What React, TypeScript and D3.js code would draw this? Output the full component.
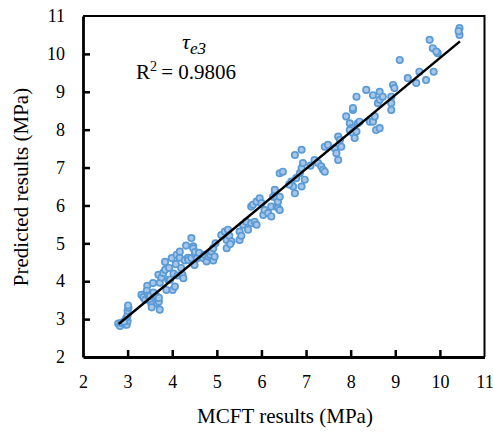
import React, { useEffect, useRef } from 'react';
import * as d3 from 'd3';

// MCFT results (x) vs predicted results (y), MPa
const mcftVals = [
  2.79, 2.83, 2.86, 2.95, 2.98, 3.0, 2.97, 3.0, 3.0, 3.02, 3.01, 2.92,
  3.31, 3.35, 3.39, 3.44, 3.43, 3.46, 3.5, 3.52, 3.54, 3.54, 3.57, 3.58, 3.62, 3.65, 3.66, 3.69, 3.7, 3.7, 3.72, 3.72,
  3.76, 3.8, 3.84, 3.84, 3.87, 3.91, 3.93, 3.95, 3.99, 4.01, 4.03, 4.06, 4.08, 4.1, 4.12, 4.17, 4.17, 4.2, 4.23, 4.25, 4.28, 4.31,
  4.35, 4.36, 4.43, 4.43, 4.47, 4.47, 4.5, 4.51, 4.51, 4.55, 4.6, 4.69, 4.72, 4.77, 4.81, 4.85, 4.88, 4.92, 4.92, 4.95, 4.97,
  5.1, 5.18, 5.22, 5.22, 5.25, 5.28, 5.33, 5.3,
  5.51, 5.51, 5.55, 5.59, 5.66, 5.7, 5.77, 5.77, 5.81, 5.85, 5.89, 5.89, 5.96, 6.0,
  6.04, 6.07, 6.15, 6.22, 6.22, 6.26, 6.3, 6.3, 6.34, 6.34, 6.37, 6.37, 6.41, 6.41, 6.41, 6.48,
  6.67, 6.71, 6.75, 6.78, 6.86, 6.9, 6.93, 6.97, 6.9, 6.75, 6.9, 6.62,
  7.19, 7.27, 7.34, 7.38, 7.42, 7.42, 7.49, 7.1,
  7.64, 7.68, 7.72, 7.72, 7.76, 7.79, 7.9, 7.98, 8.02, 7.98, 8.05, 8.09, 8.13, 8.16, 8.05, 8.05, 8.13, 8.2,
  8.35, 8.43, 8.5, 8.5, 8.54, 8.57, 8.65, 8.61, 8.65, 8.65, 8.72, 8.91, 8.91, 8.91, 8.95, 8.98,
  9.1, 9.28, 9.47, 9.54, 9.69, 9.77, 9.84, 9.86, 9.95, 9.92, 10.44, 10.44, 10.42
];
const predVals = [
  2.88, 2.82, 2.9, 2.86, 2.85, 2.95, 3.03, 3.1, 3.22, 3.3, 3.36, 2.93,
  3.64, 3.58, 3.51, 3.88, 3.75, 3.62, 3.61, 3.45, 3.38, 3.31, 3.95, 3.7, 3.55, 3.6, 3.42, 4.17, 3.46, 3.56, 3.96, 3.25,
  4.1, 4.22, 4.3, 4.51, 3.77, 4.04, 4.35, 4.04, 4.61, 3.77, 4.2, 3.86, 4.45, 4.7, 4.15, 4.62, 4.78, 4.35, 4.17, 4.08, 4.55, 4.94,
  4.62, 4.56, 5.14, 4.61, 4.92, 4.87, 4.43, 4.7, 4.77, 4.6, 4.75, 4.61, 4.7, 4.52, 4.65, 4.7, 4.78, 4.87, 4.55, 4.65, 5.0,
  5.22, 5.31, 5.09, 4.87, 5.36, 5.2, 5.05, 4.98,
  5.31, 5.09, 5.2, 5.49, 5.57, 5.36, 5.53, 5.97, 6.02, 5.57, 5.49, 6.1, 6.19, 6.06,
  5.75, 5.88, 5.8, 5.71, 5.97, 6.23, 6.37, 6.41, 6.19, 5.97, 6.1, 5.93, 5.88, 6.23, 6.85, 6.89,
  6.63, 6.5, 6.32, 6.72, 6.85, 6.98, 7.12, 6.68, 6.5, 7.33, 7.47, 6.55,
  7.2, 7.12, 7.03, 6.94, 6.89, 7.55, 7.6, 7.05,
  7.51, 7.38, 7.2, 7.82, 7.73, 7.55, 8.35, 8.17, 8.04, 7.99, 7.91, 7.78, 7.95, 8.17, 8.52, 8.57, 8.87, 8.21,
  9.05, 8.21, 8.21, 8.91, 8.35, 7.99, 8.04, 8.7, 8.79, 9.0, 8.87, 8.87, 8.7, 8.52, 9.18, 9.1,
  9.84, 9.36, 9.23, 9.53, 9.31, 10.37, 10.15, 9.53, 10.02, 10.06, 10.68, 10.5, 10.6
];
// trend line end points
const fitX = [2.8, 10.45];
const fitY = [2.87, 10.33];
const xTicks = [2, 3, 4, 5, 6, 7, 8, 9, 10, 11];
const yTicks = [2, 3, 4, 5, 6, 7, 8, 9, 10, 11];

const W = 493;
const H = 432;
const serif = 'Liberation Serif';

function Chart() {
  const ref = useRef<SVGSVGElement>(null);

  useEffect(() => {
    const svg = d3.select(ref.current);
    svg.selectAll('*').remove();

    const x = d3.scaleLinear().domain([2, 11]).range([83, 484.5]);
    const y = d3.scaleLinear().domain([2, 11]).range([357, 16]);

    // frame top / right
    svg.append('path')
      .attr('d', `M${x(2)},${y(11)}H${x(11)}V${y(2)}`)
      .attr('fill', 'none')
      .attr('stroke', '#000')
      .attr('stroke-width', 2);

    const gx = svg.append('g')
      .attr('transform', `translate(0,${y(2)})`)
      .call(d3.axisBottom(x).tickValues(xTicks).tickSize(-7).tickSizeOuter(0).tickPadding(18).tickFormat(d3.format('d')));
    const gy = svg.append('g')
      .attr('transform', `translate(${x(2)},0)`)
      .call(d3.axisLeft(y).tickValues(yTicks).tickSize(-7).tickSizeOuter(0).tickPadding(18).tickFormat(d3.format('d')));

    [gx, gy].forEach(g => {
      g.attr('font-family', serif).attr('font-size', 18);
      g.select('.domain').attr('stroke', '#000').attr('stroke-width', 2.8);
      g.selectAll('.tick line').attr('stroke', '#000').attr('stroke-width', 2.5);
      g.selectAll('.tick text').attr('fill', '#000');
    });
    gx.selectAll('.tick line').filter((d: any) => d === 2 || d === 11).remove();
    gy.selectAll('.tick line').filter((d: any) => d === 2 || d === 11).remove();

    const pts = mcftVals.map((v, i) => [v, predVals[i]]);
    svg.append('g')
      .selectAll('circle')
      .data(pts)
      .enter()
      .append('circle')
      .attr('cx', d => x(d[0]))
      .attr('cy', d => y(d[1]))
      .attr('r', 3.2)
      .attr('fill', '#a7c6e8')
      .attr('stroke', '#5b9bd5')
      .attr('stroke-width', 1.7);

    const line = d3.line<number>()
      .x(d => x(fitX[d]))
      .y(d => y(fitY[d]));
    svg.append('path')
      .attr('d', line([0, 1]))
      .attr('fill', 'none')
      .attr('stroke', '#000')
      .attr('stroke-width', 2.5);

    // annotation
    const ann = svg.append('text')
      .attr('x', 182)
      .attr('y', 49)
      .attr('font-size', 22)
      .attr('font-style', 'italic');
    ann.append('tspan').text('τ');
    ann.append('tspan').attr('dy', 5).attr('font-size', 17).text('e3');

    const r2 = svg.append('text')
      .attr('x', 136)
      .attr('y', 79)
      .attr('font-size', 21);
    r2.append('tspan').text('R');
    r2.append('tspan').attr('dy', -8).attr('font-size', 14).text('2');
    r2.append('tspan').attr('dy', 8).text('\u2009= 0.9806');

    // axis titles
    svg.append('text')
      .attr('x', 285)
      .attr('y', 423)
      .attr('text-anchor', 'middle')
      .attr('font-size', 21)
      .text('MCFT results (MPa)');
    svg.append('text')
      .attr('transform', 'translate(28,187) rotate(-90)')
      .attr('text-anchor', 'middle')
      .attr('font-size', 21)
      .text('Predicted results (MPa)');
  }, []);

  return (
    <svg ref={ref} width={W} height={H} fontFamily={serif}
      style={{ position: 'absolute', left: 0, top: 0, background: '#fff' }} />
  );
}

export default function App() {
  return <Chart />;
}
